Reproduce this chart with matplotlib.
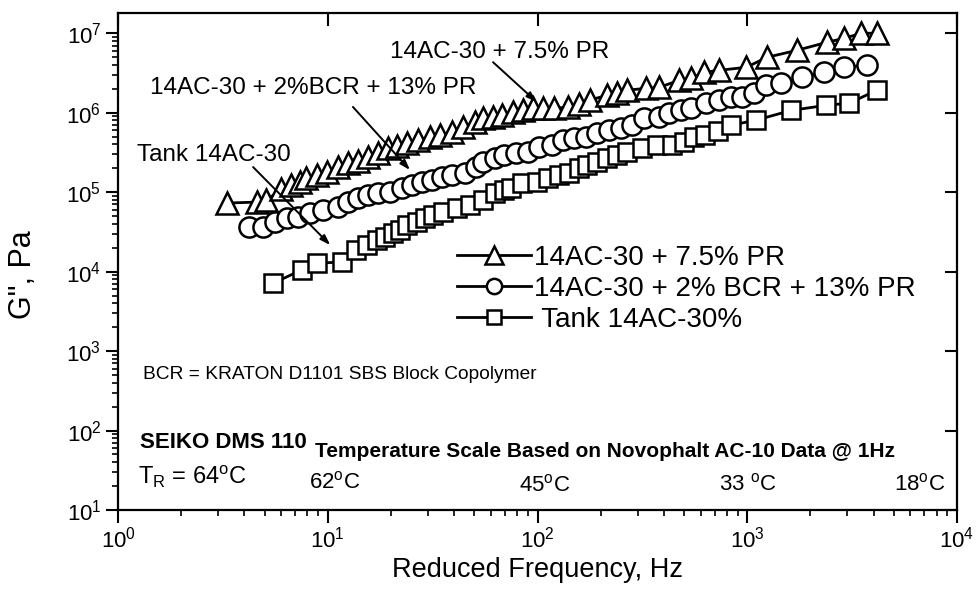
import matplotlib
matplotlib.use("Agg")
import matplotlib.pyplot as plt
from matplotlib.lines import Line2D
from matplotlib.ticker import FixedLocator, LogLocator, NullFormatter, NullLocator

plt.rcParams["font.family"] = ["Liberation Sans", "DejaVu Sans"]
plt.rcParams["mathtext.fontset"] = "custom"
plt.rcParams["mathtext.rm"] = "Liberation Sans"
plt.rcParams["mathtext.it"] = "Liberation Sans"

# 14AC-30 + 7.5% PR
freq_pr = [3.3, 4.6, 5.1, 6.0, 6.7, 7.4, 7.9, 8.9, 9.9, 11.2, 12.5, 13.9, 15.5, 17.3,
           19.3, 21.3, 23.8, 26.8, 30.6, 34.2, 38.9, 43.9, 50.1, 54.7, 61.1, 68, 76,
           85, 95, 106, 120, 139, 158, 177, 215, 240, 268, 330, 381, 474, 541, 624,
           736, 989, 1245, 1730, 2400, 2900, 3490, 4160]
g_pr = [7.3e4, 7.5e4, 7.9e4, 1.09e5, 1.22e5, 1.34e5, 1.50e5, 1.64e5, 1.79e5, 2.06e5,
        2.32e5, 2.45e5, 2.76e5, 3.10e5, 3.57e5, 3.79e5, 4.13e5, 4.51e5, 4.92e5, 5.21e5,
        5.69e5, 6.57e5, 7.60e5, 8.53e5, 8.78e5, 9.4e5, 1.01e6, 1.07e6, 1.14e6, 1.14e6,
        1.14e6, 1.17e6, 1.28e6, 1.44e6, 1.66e6, 1.76e6, 1.92e6, 2.03e6, 2.09e6, 2.56e6,
        2.72e6, 3.23e6, 3.42e6, 3.73e6, 4.99e6, 6.11e6, 7.70e6, 8.65e6, 1.0e7, 1.0e7]

# 14AC-30 + 2% BCR + 13% PR
freq_bcr = [4.2, 4.9, 5.6, 6.4, 7.2, 8.2, 9.5, 11.2, 12.5, 13.9, 15.5, 17.3, 19.7, 22.5,
            25.1, 28.0, 31.3, 34.9, 38.9, 44.9, 50.7, 54.7, 62.4, 69.6, 79.4, 89.6, 102,
            117, 132, 150, 171, 193, 220, 251, 283, 323, 381, 425, 485, 541, 638, 736,
            839, 946, 1080, 1230, 1450, 1830, 2330, 2900, 3730]
g_bcr = [3.63e4, 3.63e4, 4.2e4, 4.71e4, 4.85e4, 5.45e4, 5.94e4, 6.48e4, 7.48e4, 8.41e4,
         9.17e4, 9.71e4, 1.0e5, 1.12e5, 1.22e5, 1.34e5, 1.42e5, 1.55e5, 1.64e5, 1.73e5,
         2.06e5, 2.38e5, 2.68e5, 2.92e5, 3.10e5, 3.19e5, 3.68e5, 3.90e5, 4.51e5, 4.78e5,
         4.92e5, 5.52e5, 6.03e5, 6.39e5, 6.97e5, 8.53e5, 8.78e5, 9.86e5, 1.07e6, 1.14e6,
         1.32e6, 1.44e6, 1.57e6, 1.57e6, 1.76e6, 2.22e6, 2.35e6, 2.80e6, 3.23e6, 3.73e6,
         3.96e6]

# Tank 14AC-30
freq_tank = [5.5, 7.5, 8.9, 11.7, 13.7, 15.3, 17.1, 18.7, 20.4, 22.0, 23.8, 26.5, 29.0,
             31.6, 35.3, 41.1, 47.4, 54.7, 62.4, 69.6, 75, 84.8, 98.9, 112, 127, 142,
             158, 173, 193, 215, 240, 268, 316, 373, 439, 501, 559, 631, 727, 839, 1100,
             1620, 2380, 3060, 4160]
g_tank = [7.16e3, 1.05e4, 1.28e4, 1.32e4, 1.86e4, 2.15e4, 2.49e4, 2.72e4, 3.05e4, 3.32e4,
          3.85e4, 4.20e4, 4.71e4, 5.14e4, 5.60e4, 6.29e4, 6.86e4, 7.93e4, 9.71e4, 1.06e5,
          1.12e5, 1.30e5, 1.34e5, 1.50e5, 1.64e5, 1.73e5, 2.00e5, 2.19e5, 2.38e5, 2.68e5,
          2.92e5, 3.19e5, 3.57e5, 3.90e5, 3.90e5, 4.26e5, 4.92e5, 5.21e5, 5.84e5, 6.97e5,
          8.05e5, 1.07e6, 1.24e6, 1.32e6, 1.92e6]

x_ticks = [1e0, 1e1, 1e2, 1e3, 1e4]
y_ticks = [1e1, 1e2, 1e3, 1e4, 1e5, 1e6, 1e7]

legend_labels = ["14AC-30 + 7.5% PR", "14AC-30 + 2% BCR + 13% PR", " Tank 14AC-30%"]
temp_labels = [r"62$^\mathregular{o}$C", r"45$^\mathregular{o}$C",
               r"33 $^\mathregular{o}$C", r"18$^\mathregular{o}$C"]
temp_pos = [(0.228, 0.056), (0.478, 0.050), (0.716, 0.052), (0.925, 0.052)]

fig = plt.figure(figsize=(9.78, 6.01), dpi=100)
ax = fig.add_axes([0.1207, 0.1514, 0.8578, 0.827])

style = dict(color="black", lw=2.0, markerfacecolor="white", markeredgecolor="black",
             markeredgewidth=1.8)
ax.plot(freq_pr, g_pr, marker="^", ms=16, **style)
ax.plot(freq_bcr, g_bcr, marker="o", ms=14.5, **style)
ax.plot(freq_tank, g_tank, marker="s", ms=12.5, **style)

ax.set_xscale("log")
ax.set_yscale("log")
ax.set_xlim(1, 1e4)
ax.set_ylim(10, 1.8e7)

ax.xaxis.set_major_locator(FixedLocator(x_ticks))
ax.yaxis.set_major_locator(FixedLocator(y_ticks))
ax.xaxis.set_minor_locator(LogLocator(base=10, subs=range(2, 10), numticks=20))
ax.yaxis.set_minor_locator(LogLocator(base=10, subs=range(2, 10), numticks=20))
ax.xaxis.set_minor_formatter(NullFormatter())
ax.yaxis.set_minor_formatter(NullFormatter())

for s in ax.spines.values():
    s.set_linewidth(1.6)
ax.tick_params(which="major", direction="out", length=9, width=1.5, labelsize=16, pad=3)
ax.tick_params(which="minor", direction="out", length=4.5, width=1.2)

# inward major ticks on top and right, via twin axes with the same scale
axt = ax.twiny()
axt.set_xscale("log")
axt.set_xlim(ax.get_xlim())
axt.xaxis.set_major_locator(FixedLocator(x_ticks))
axt.xaxis.set_minor_locator(NullLocator())
axt.tick_params(axis="x", direction="in", length=9, width=1.5, labeltop=False,
                labelbottom=False, bottom=False)
axr = ax.twinx()
axr.set_yscale("log")
axr.set_ylim(ax.get_ylim())
axr.yaxis.set_major_locator(FixedLocator(y_ticks))
axr.yaxis.set_minor_locator(NullLocator())
axr.tick_params(axis="y", direction="in", length=9, width=1.5, labelright=False,
                labelleft=False, left=False)
for extra in (axt, axr):
    for s in extra.spines.values():
        s.set_visible(False)

ax.set_xlabel("Reduced Frequency, Hz", fontsize=19.5, labelpad=3)
ax.set_ylabel('G", Pa', fontsize=22)
ax.yaxis.set_label_coords(-0.095, 0.473)

handles = [
    Line2D([], [], marker="^", ms=13, **style),
    Line2D([], [], marker="o", ms=11, **style),
    Line2D([], [], marker="s", ms=10, **style),
]
axr.legend(handles, legend_labels, loc="upper left", bbox_to_anchor=(0.404, 0.533),
           frameon=False, fontsize=20, handlelength=2.65, handletextpad=0.12,
           labelspacing=0.18, borderpad=0, borderaxespad=0)

arrow = dict(arrowstyle="-|>,head_length=0.6,head_width=0.2", color="black", lw=1.4,
             shrinkA=0, shrinkB=0)
ax.text(0.324, 0.922, "14AC-30 + 7.5% PR", transform=ax.transAxes, fontsize=17.5,
        va="center")
ax.annotate("", xy=(0.499, 0.821), xytext=(0.447, 0.901), xycoords="axes fraction",
            textcoords="axes fraction", arrowprops=arrow)
ax.text(0.038, 0.849, "14AC-30 + 2%BCR + 13% PR", transform=ax.transAxes,
        fontsize=17.5, va="center")
ax.annotate("", xy=(0.348, 0.684), xytext=(0.280, 0.811), xycoords="axes fraction",
            textcoords="axes fraction", arrowprops=arrow)
ax.text(0.023, 0.714, "Tank 14AC-30", transform=ax.transAxes, fontsize=17.5,
        va="center")
ax.annotate("", xy=(0.253, 0.533), xytext=(0.161, 0.690), xycoords="axes fraction",
            textcoords="axes fraction", arrowprops=arrow)

ax.text(0.030, 0.272, "BCR = KRATON D1101 SBS Block Copolymer", transform=ax.transAxes,
        fontsize=13.8, va="center")
ax.text(0.026, 0.135, "SEIKO DMS 110", transform=ax.transAxes, fontsize=16,
        va="center", fontweight="bold")
ax.text(0.024, 0.066, r"T$_\mathregular{R}$ = 64$^\mathregular{o}$C",
        transform=ax.transAxes, fontsize=17, va="center")
ax.text(0.235, 0.117, "Temperature Scale Based on Novophalt AC-10 Data @ 1Hz",
        transform=ax.transAxes, fontsize=15, va="center", fontweight="bold")
for lab, (px, py) in zip(temp_labels, temp_pos):
    ax.text(px, py, lab, transform=ax.transAxes, fontsize=16, va="center")

fig.savefig("out.png", dpi=100)
